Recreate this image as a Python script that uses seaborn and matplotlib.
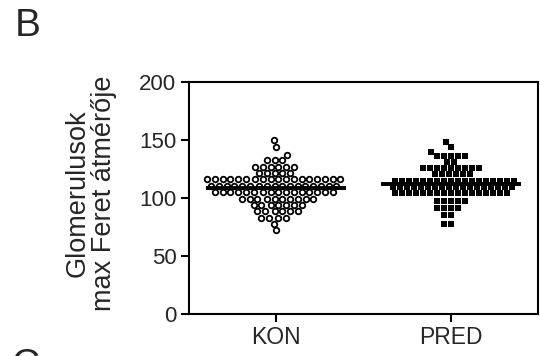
import numpy as np
import pandas as pd
import matplotlib
matplotlib.use("Agg")
import matplotlib.pyplot as plt
import seaborn as sns

groups = ["KON", "PRED"]
kon_values = [150, 144, 137.5, 132.5, 132.5, 132.5,
              127, 127, 127, 127, 127, 127,
              121.5, 121.5, 121.5, 121.5, 121.5,
              116, 116, 116, 116, 116, 116, 116, 116, 116, 116, 116, 116, 116, 116, 116, 116, 116, 116,
              110.5, 110.5, 110.5, 110.5, 110.5, 110.5, 110.5, 110.5, 110.5, 110.5, 110.5, 110.5,
              110.5, 110.5, 110.5, 110.5, 110.5,
              105, 105, 105, 105, 105, 105, 105, 105, 105, 105, 105, 105, 105, 105, 105, 105,
              99.5, 99.5, 99.5, 99.5, 99.5, 99.5, 99.5, 99.5, 99.5, 99.5,
              94, 94, 94, 94, 94, 94, 94,
              88.5, 88.5, 88.5, 88.5, 88.5, 88.5,
              83, 83, 83, 83,
              78, 72]
pred_values = [148, 144, 140,
               136.5, 136.5, 136.5, 136.5, 136.5,
               131, 131,
               126, 126, 126, 126, 126, 126, 126, 126, 126,
               120.5, 120.5, 120.5, 120.5, 120.5, 120.5,
               115, 115, 115, 115, 115, 115, 115, 115, 115, 115, 115, 115, 115, 115, 115, 115, 115, 115,
               109.5, 109.5, 109.5, 109.5, 109.5, 109.5, 109.5, 109.5, 109.5, 109.5, 109.5, 109.5,
               109.5, 109.5, 109.5, 109.5, 109.5, 109.5,
               104, 104, 104, 104, 104, 104, 104, 104, 104, 104, 104, 104, 104, 104, 104, 104, 104,
               97, 97, 97, 97, 97,
               91, 91, 91, 91,
               85, 85,
               78, 78]
y_ticks = [0, 50, 100, 150, 200]
y_label = "Glomerulusok\nmax Feret átmérője"

df = pd.DataFrame({
    "group": ["KON"] * len(kon_values) + ["PRED"] * len(pred_values),
    "value": kon_values + pred_values,
})

sns.set_style("ticks")
plt.rcParams["font.family"] = ["Liberation Sans", "DejaVu Sans"]

fig = plt.figure(figsize=(5.4, 3.56), dpi=100)
ax = fig.add_axes([189 / 540, 1 - 314 / 356, (538 - 189) / 540, (314 - 82) / 356])

sns.swarmplot(data=df[df.group == "KON"], x="group", y="value", order=groups,
              marker="o", color="white", edgecolor="black", linewidth=1.3,
              size=4.0, ax=ax, zorder=2, warn_thresh=1)
sns.swarmplot(data=df[df.group == "PRED"], x="group", y="value", order=groups,
              marker="s", color="black", linewidth=0,
              size=4.8, ax=ax, zorder=2, warn_thresh=1)

for i, vals in enumerate([kon_values, pred_values]):
    ax.hlines(np.mean(vals), i - 0.4, i + 0.4, color="black", lw=2.8, zorder=3)

ax.set_xlim(-0.5, 1.5)
ax.set_ylim(0, 200)
ax.set_yticks(y_ticks)
ax.set_xlabel("")
ax.set_ylabel(y_label, fontsize=19.5, linespacing=1.0, labelpad=16)
ax.yaxis.label.set_y(0.52)
ax.tick_params(axis="both", length=6, width=1.5, color="black", labelsize=16, pad=3)
ax.tick_params(axis="x", labelsize=16.5)
for sp in ax.spines.values():
    sp.set_visible(True)
    sp.set_linewidth(1.5)
    sp.set_color("black")

fig.text(15 / 540, 1 - 8 / 356, "B", fontsize=28, va="top", ha="left")
fig.text(12 / 540, 1 - 348 / 356, "C", fontsize=28, va="top", ha="left")

fig.savefig("out.png", dpi=100)
